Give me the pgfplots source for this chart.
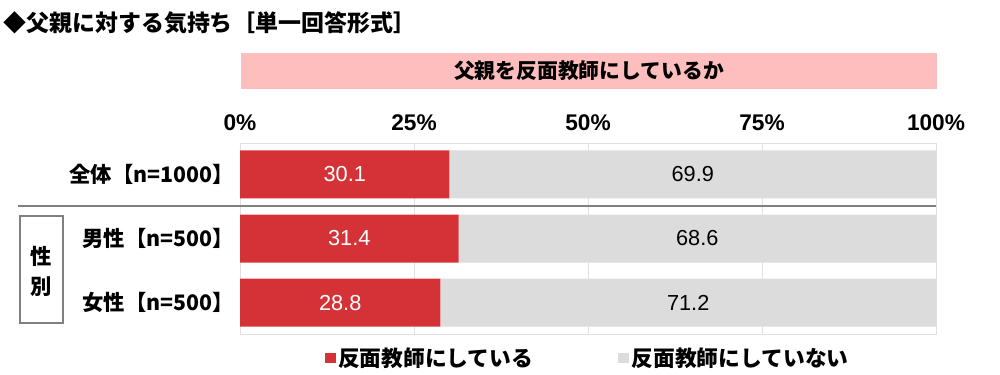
\documentclass[border=0pt]{standalone}
\usepackage{pgfplots}
\pgfplotsset{compat=1.18}
\usepackage{fontspec}
\setmainfont{Liberation Sans}
\newfontfamily\jp{Noto Sans CJK JP}
\definecolor{barred}{RGB}{212,50,54}
\definecolor{bargray}{RGB}{220,220,220}
\definecolor{hdrpink}{RGB}{255,190,190}
\definecolor{sepgray}{RGB}{128,128,128}
\pgfplotsset{
  frame/.style={at={(180pt,-250.5pt)}, anchor=south west,
  scale only axis, width=522pt, height=143.25pt,
  xmin=0, xmax=100, ymin=-0.49, ymax=2.49, y dir=reverse}
}
\begin{document}
\begin{tikzpicture}
\path[use as bounding box] (0pt,0pt) rectangle (750pt,-281.25pt);
% title
\node[anchor=west, inner sep=0pt, font=\jp\bfseries\fontsize{17.2}{19}\selectfont] at (2.5pt,-17.25pt) {◆父親に対する気持ち［単一回答形式］};
% header
\fill[hdrpink] (180.75pt,-39.75pt) rectangle (702.75pt,-66.75pt);
\node[font=\jp\bfseries\fontsize{15.6}{17}\selectfont, inner sep=0pt] at (441.75pt,-53.25pt) {父親を反面教師にしているか};
\begin{axis}[
  frame,
  xbar stacked, bar width=36pt,
  ytick={0,1,2},
  yticklabels={全体【n=1000】,男性【n=500】,女性【n=500】},
  yticklabel style={font=\jp\bfseries\fontsize{16}{18}\selectfont, xshift=-1pt},
  xtick={0,25,50,75,100},
  xticklabels={0\%,25\%,50\%,75\%,100\%},
  xticklabel style={font=\bfseries\fontsize{17}{19}\selectfont, yshift=5.6pt},
  xticklabel pos=upper,
  major tick length=0pt,
  xmajorgrids, grid style={draw=black!12},
  axis line style={draw=black!12},
  legend style={at={(0.5,-0.125)}, anchor=center, draw=none, fill=none,
    font=\jp\bfseries\fontsize{16.3}{18}\selectfont,
    /tikz/every even column/.append style={column sep=62pt}},
  legend columns=2,
  legend image code/.code={\fill[#1] (0pt,-4pt) rectangle (8pt,4pt);},
]
\addplot[fill=barred, draw=none] coordinates {(30.1,0) (31.4,1) (28.8,2)};
\addlegendentry{反面教師にしている}
\addplot[fill=bargray, draw=none] coordinates {(69.9,0) (68.6,1) (71.2,2)};
\addlegendentry{反面教師にしていない}
\end{axis}
% value labels, centred in each segment
\begin{axis}[
  frame, hide axis,
  nodes near coords, point meta=explicit symbolic,
  every node near coord/.append style={anchor=center, inner sep=0pt, font=\fontsize{16.3}{18}\selectfont},
]
\addplot[draw=none, mark=none, nodes near coords, every node near coord/.append style={text=white}] coordinates {(15.05,0) [30.1] (15.7,1) [31.4] (14.4,2) [28.8]};
\addplot[draw=none, mark=none, nodes near coords, every node near coord/.append style={text=black}] coordinates {(65.05,0) [69.9] (65.7,1) [68.6] (64.4,2) [71.2]};
\end{axis}
% separator
\draw[sepgray, line width=1.5pt] (13.5pt,-154.5pt) -- (702pt,-154.5pt);
% group box
\draw[sepgray, line width=0.9pt] (15pt,-162pt) rectangle (47.25pt,-242.25pt);
\node[font=\jp\bfseries\fontsize{16}{18}\selectfont, inner sep=0pt] at (31.1pt,-192pt) {性};
\node[font=\jp\bfseries\fontsize{16}{18}\selectfont, inner sep=0pt] at (31.1pt,-215.25pt) {別};
\end{tikzpicture}
\end{document}
